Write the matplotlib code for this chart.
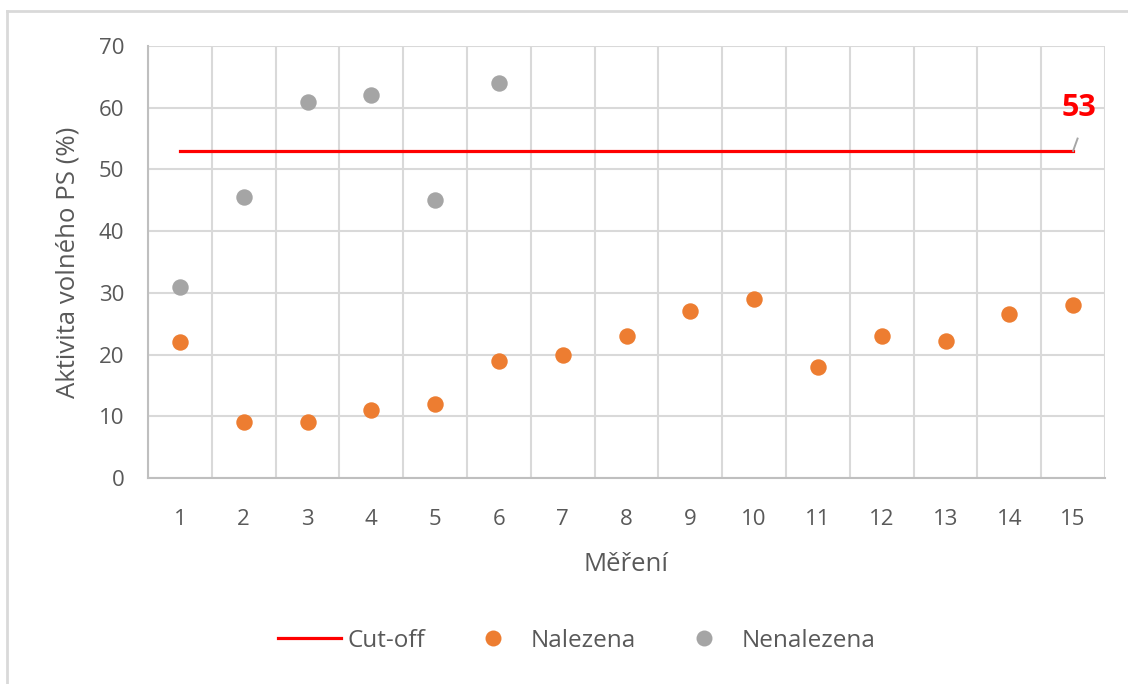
import matplotlib
matplotlib.use("Agg")
import matplotlib.pyplot as plt
from matplotlib.lines import Line2D

plt.rcParams['font.family'] = ['Open Sans', 'DejaVu Sans']

measurements = list(range(1, 16))
nalezena = [22, 9, 9, 11, 12, 19, 20, 23, 27, 29, 18, 23, 22.2, 26.6, 28]
nenalezena_x = [1, 2, 3, 4, 5, 6]
nenalezena = [31, 45.5, 61, 62, 45, 64]
cutoff_x = [1, 15]
cutoff = [53, 53]
y_ticks = [0, 10, 20, 30, 40, 50, 60, 70]

W, H = 1128, 684
fig = plt.figure(figsize=(W / 100, H / 100), dpi=100)
ax = fig.add_axes([148 / W, 1 - 478 / H, (1105 - 148) / W, (478 - 46) / H])

orange = '#ED7D31'
grey = '#A5A5A5'
red = '#FF0000'
txt = '#595959'
grid = '#D9D9D9'

ax.set_xlim(0.5, 15.5)
ax.set_ylim(0, 70)
ax.set_xticks(measurements)
ax.set_xticks([m + 0.5 for m in [0] + measurements], minor=True)
ax.set_yticks(y_ticks)
ax.grid(which='minor', axis='x', color=grid, lw=1.5, zorder=0)
ax.grid(which='major', axis='y', color=grid, lw=1.5, zorder=0)
ax.grid(which='major', axis='x', visible=False)
ax.tick_params(which='both', length=0, labelsize=16, labelcolor=txt)
ax.tick_params(axis='y', pad=17)
ax.tick_params(axis='x', pad=22)
for s in ['top', 'right']:
    ax.spines[s].set_visible(False)
for s in ['left', 'bottom']:
    ax.spines[s].set_color('#BFBFBF')
    ax.spines[s].set_linewidth(1.5)

ax.plot(cutoff_x, cutoff, color=red, lw=2.3, zorder=3, label='Cut-off')
ax.scatter(measurements, nalezena, s=140, color=orange, zorder=4, label='Nalezena', linewidths=0)
ax.scatter(nenalezena_x, nenalezena, s=140, color=grey, zorder=4, label='Nenalezena', linewidths=0)

# data label for the cut-off with a leader line
ax.plot([cutoff_x[1], cutoff_x[1] + 0.07], [cutoff[1], cutoff[1] + 2.0],
        color='#A6A6A6', lw=1.4, zorder=3, clip_on=False)
ax.text(cutoff_x[1] + 0.09, 60.0, str(cutoff[1]), color=red, fontsize=22,
        fontweight='bold', ha='center', va='center', clip_on=False)

ax.set_xlabel('Měření', fontsize=18.5, color=txt, labelpad=16)
ax.set_ylabel('Aktivita volného PS (%)', fontsize=18.5, color=txt, labelpad=13)

handles = [
    Line2D([], [], color=red, lw=2.3),
    Line2D([], [], marker='o', ls='', color=orange, markersize=11.5, markeredgewidth=0),
    Line2D([], [], marker='o', ls='', color=grey, markersize=11.5, markeredgewidth=0),
]
fig.legend(handles, ['Cut-off', 'Nalezena', 'Nenalezena'], loc='center',
           bbox_to_anchor=(577 / W, 1 - 641 / H), ncol=3, frameon=False,
           fontsize=17.5, labelcolor=txt, handlelength=2.6, columnspacing=1.5,
           handletextpad=0.25)

# outer chart border
fig.add_artist(Line2D([7 / W, 1], [1 - 11 / H, 1 - 11 / H], color=grid, lw=2))
fig.add_artist(Line2D([7 / W, 7 / W], [0, 1 - 11 / H], color=grid, lw=2))

fig.savefig('out.png', dpi=100, facecolor='white')
